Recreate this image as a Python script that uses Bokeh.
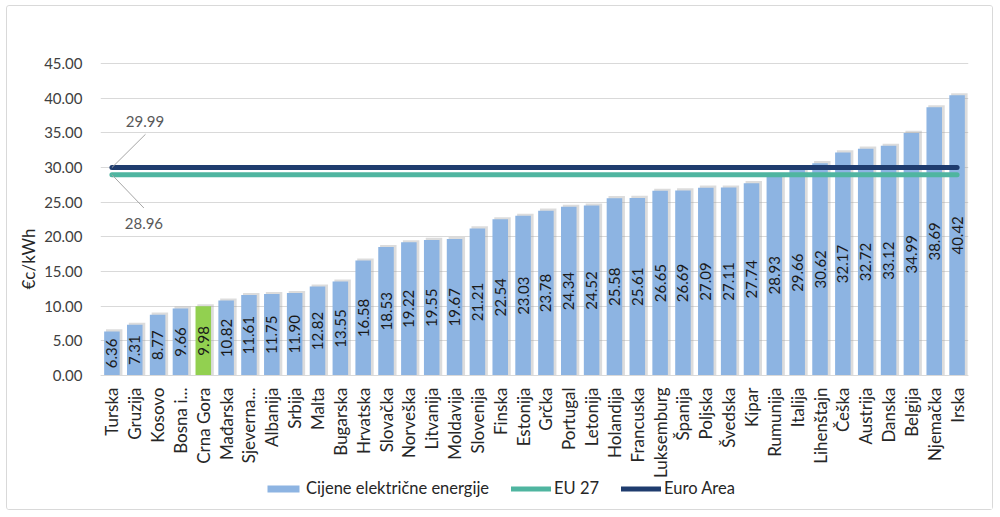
import math
from bokeh.plotting import figure
from bokeh.models import (Range1d, FixedTicker, NumeralTickFormatter, ColumnDataSource,
                          LabelSet, Legend, LegendItem, Label)
from bokeh.core.properties import value
from bokeh.embed import file_html
from bokeh.resources import INLINE

countries = ["Turska", "Gruzija", "Kosovo", "Bosna i...", "Crna Gora", "Mađarska", "Sjeverna...",
             "Albanija", "Srbija", "Malta", "Bugarska", "Hrvatska", "Slovačka", "Norveška",
             "Litvanija", "Moldavija", "Slovenija", "Finska", "Estonija", "Grčka", "Portugal",
             "Letonija", "Holandija", "Francuska", "Luksemburg", "Španija", "Poljska", "Švedska",
             "Kipar", "Rumunija", "Italija", "Lihenštajn", "Češka", "Austrija", "Danska",
             "Belgija", "Njemačka", "Irska"]
prices = [6.36, 7.31, 8.77, 9.66, 9.98, 10.82, 11.61, 11.75, 11.90, 12.82, 13.55, 16.58, 18.53,
          19.22, 19.55, 19.67, 21.21, 22.54, 23.03, 23.78, 24.34, 24.52, 25.58, 25.61, 26.65,
          26.69, 27.09, 27.11, 27.74, 28.93, 29.66, 30.62, 32.17, 32.72, 33.12, 34.99, 38.69, 40.42]
eu27 = 28.96
euro_area = 29.99
highlight = "Crna Gora"
y_ticks = [0, 5, 10, 15, 20, 25, 30, 35, 40, 45]

FONT = "Lato"
BLUE = "#8db4e2"
GREEN = "#92d050"
TEAL = "#4fb5a0"
NAVY = "#1f3c6e"

n = len(countries)
xs = list(range(n))
colors = [GREEN if c == highlight else BLUE for c in countries]
src = ColumnDataSource(dict(x=xs, top=prices, mid=[v / 2 for v in prices],
                            lbl=[f"{v:.2f}" for v in prices], color=colors,
                            sx=[x + 0.1 for x in xs], stop=[v + 0.3 for v in prices]))

# frame spans the whole canvas height; axis area is 0..45 with padding above and below
Y_MAX = 45
PLOT_PX = 312
Y_TOP = Y_MAX + Y_MAX * 57 / PLOT_PX
Y_MIN = -Y_MAX * 136 / PLOT_PX

p = figure(width=987, height=505, x_range=Range1d(-0.5, n - 0.5), y_range=Range1d(Y_MIN, Y_TOP),
           output_backend="svg", toolbar_location=None,
           min_border_left=93, min_border_right=26, min_border_top=0, min_border_bottom=0)
p.styles = {"border": "1px solid #d9d9d9", "border-radius": "3px",
            "margin-left": "6px", "margin-top": "5px"}
p.outline_line_color = None
p.background_fill_color = "white"
p.border_fill_color = "white"

# shadows
p.vbar(x="sx", top="stop", width=0.72, source=src, fill_color="#9a9a9a", fill_alpha=0.35,
       line_color=None)
bars = p.vbar(x="x", top="top", width=0.68, source=src, fill_color="color", line_color=None)

l_eu = p.line([0, n - 1], [eu27, eu27], line_color=TEAL, line_width=5, line_cap="round")
l_ea = p.line([0, n - 1], [euro_area, euro_area], line_color=NAVY, line_width=5, line_cap="round")

labels = LabelSet(x="x", y="mid", text="lbl", source=src, angle=math.pi / 2,
                  text_align="center", text_baseline="middle", text_font=value(FONT),
                  text_font_size="15px", text_color="#1a1a1a")
p.add_layout(labels)

# leader lines and value callouts
p.segment(x0=[0, 0], y0=[euro_area, eu27], x1=[1.47, 1.4], y1=[euro_area + 4.8, eu27 - 4.8],
          line_color="#a6a6a6", line_width=1)
p.add_layout(Label(x=1.45, y=euro_area + 6.6, text=f"{euro_area:.2f}", text_align="center",
                   text_baseline="middle", text_font=FONT, text_font_size="15px",
                   text_color="#595959"))
p.add_layout(Label(x=1.4, y=eu27 - 7.0, text=f"{eu27:.2f}", text_align="center",
                   text_baseline="middle", text_font=FONT, text_font_size="15px",
                   text_color="#595959"))

# axes
p.yaxis.ticker = FixedTicker(ticks=y_ticks)
p.yaxis.formatter = NumeralTickFormatter(format="0.00")
p.yaxis.axis_line_color = None
p.yaxis.major_tick_line_color = None
p.yaxis.minor_tick_line_color = None
p.yaxis.major_label_standoff = 12
p.yaxis.major_label_text_font = FONT
p.yaxis.major_label_text_font_size = "15px"
p.yaxis.major_label_text_color = "#404040"
p.yaxis.axis_label = "€c/kWh"
p.yaxis.axis_label_text_font = FONT
p.yaxis.axis_label_text_font_size = "17px"
p.yaxis.axis_label_text_font_style = "normal"
p.yaxis.axis_label_text_color = "#262626"
p.yaxis.axis_label_standoff = 2

p.xaxis.fixed_location = 0
p.xaxis.ticker = FixedTicker(ticks=xs)
p.xaxis.major_label_overrides = {i: c for i, c in enumerate(countries)}
p.xaxis.major_label_orientation = math.pi / 2
p.xaxis.major_label_standoff = 6
p.xaxis.major_tick_line_color = None
p.xaxis.minor_tick_line_color = None
p.xaxis.axis_line_color = "#d9d9d9"
p.xaxis.major_label_text_font = FONT
p.xaxis.major_label_text_font_size = "17px"
p.xaxis.major_label_text_color = "#262626"

p.xgrid.grid_line_color = None
p.ygrid.grid_line_color = "#d9d9d9"

legend = Legend(items=[LegendItem(label="Cijene električne energije", renderers=[bars]),
                       LegendItem(label="EU 27", renderers=[l_eu]),
                       LegendItem(label="Euro Area", renderers=[l_ea])],
                orientation="horizontal", location=(163, 13), glyph_width=40, glyph_height=9,
                label_standoff=3, spacing=22, padding=0, margin=0, border_line_color=None,
                background_fill_alpha=0,
                label_text_font=FONT, label_text_font_size="16.5px", label_text_color="#262626",
                label_height=14)
p.add_layout(legend, "center")

open("out.html", "w").write(file_html(p, INLINE))
